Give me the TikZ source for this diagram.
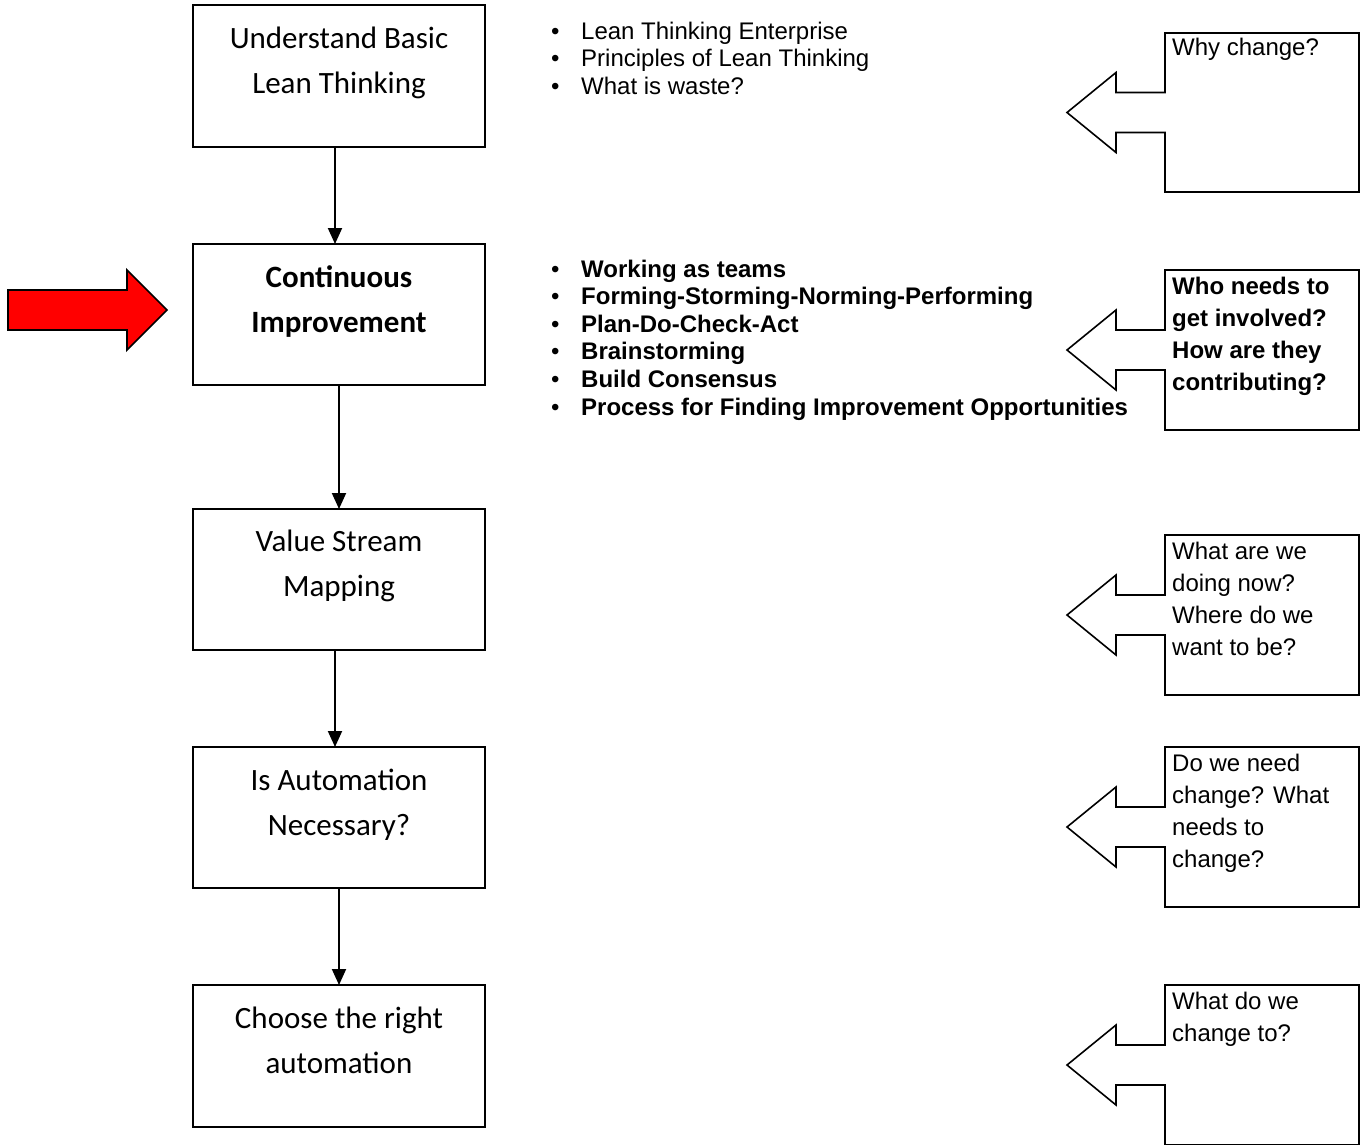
\documentclass[tikz,border=0pt]{standalone}
\usepackage{fontspec}
\setmainfont{Liberation Sans}
\newfontfamily\boxfont{Carlito}
\usetikzlibrary{arrows.meta}

% outline of a question box with its left-pointing block arrow
\newcommand\calloutpath[1]{%
  \draw[calloutline] (#1.north west) -- (#1.north east) -- (#1.south east)
    -- (#1.south west) -- ([yshift=-20pt]#1.west) -- ++(-49,0) -- ++(0,20)
    -- ++(-49,-40) -- ++(49,-40) -- ++(0,20) -- ++(49,0) -- cycle;}

\begin{document}
\begin{tikzpicture}[x=1pt,y=-1pt,
  stepbox/.style={draw, line width=1.7pt, minimum width=292pt, minimum height=142pt, inner sep=0pt, outer sep=0pt},
  boxlabel/.style={font=\boxfont\fontsize{31}{45}\selectfont, align=center, inner sep=0pt, anchor=base},
  flow/.style={line width=1.9pt, -{Triangle[width=14pt,length=16pt]}},
  listtext/.style={font=\fontsize{24}{27.6}\selectfont, align=left, inner sep=0pt, anchor=base west},
  qframe/.style={minimum width=194pt, minimum height=160pt, inner sep=0pt, outer sep=0pt},
  qtext/.style={font=\fontsize{24}{32}\selectfont, align=left, inner sep=0pt, anchor=base west},
  calloutline/.style={line width=1.6pt, line join=miter},
  redarrow/.style={draw=black, fill=red, line width=1.7pt}
]
\useasboundingbox (0,0) rectangle (1360,1144);

% process steps
\node[stepbox] (b1) at (339,76) {};
\node[stepbox, minimum height=141pt] (b2) at (339,314.5) {};
\node[stepbox, minimum height=141pt] (b3) at (339,579.5) {};
\node[stepbox, minimum height=141pt] (b4) at (339,817.5) {};
\node[stepbox] (b5) at (339,1056) {};

% labels are placed by the baseline of their last line
\node[boxlabel] (l1) at (339,93) {Understand Basic\\Lean Thinking};
\node[boxlabel] (l2) at (339,332) {\bfseries Continuous\\\bfseries Improvement};
\node[boxlabel] (l3) at (339,596) {Value Stream\\Mapping};
\node[boxlabel] (l4) at (339,835) {Is Automation\\Necessary?};
\node[boxlabel] (l5) at (339,1073) {Choose the right\\automation};

% connectors between steps
\draw[flow] ([xshift=-4pt]b1.south) -- ([xshift=-4pt]b2.north);
\draw[flow] (b2.south) -- (b3.north);
\draw[flow] ([xshift=-4pt]b3.south) -- ([xshift=-4pt]b4.north);
\draw[flow] (b4.south) -- (b5.north);

% marker for the current step
\draw[redarrow] (8,290) -- (127,290) -- (127,270) -- (167,310) -- (127,350) -- (127,330) -- (8,330) -- cycle;

% topic lists
\node[listtext] (t1) at (551,94.5) {%
  \makebox[30pt][l]{\textbullet}Lean Thinking Enterprise\\
  \makebox[30pt][l]{\textbullet}Principles of Lean Thinking\\
  \makebox[30pt][l]{\textbullet}What is waste?};
\node[listtext, font=\fontsize{24}{27.6}\selectfont\bfseries] (t2) at (551,415) {%
  \makebox[30pt][l]{\mdseries\textbullet}Working as teams\\
  \makebox[30pt][l]{\mdseries\textbullet}Forming-Storming-Norming-Performing\\
  \makebox[30pt][l]{\mdseries\textbullet}Plan-Do-Check-Act\\
  \makebox[30pt][l]{\mdseries\textbullet}Brainstorming\\
  \makebox[30pt][l]{\mdseries\textbullet}Build Consensus\\
  \makebox[30pt][l]{\mdseries\textbullet}Process for Finding Improvement Opportunities};

% guiding questions
\node[qframe, minimum height=159pt] (q1) at (1262,112.5) {};
\node[qframe] (q2) at (1262,350) {};
\node[qframe] (q3) at (1262,615) {};
\node[qframe] (q4) at (1262,827) {};
\node[qframe] (q5) at (1262,1065) {};
\calloutpath{q1}
\calloutpath{q2}
\calloutpath{q3}
\calloutpath{q4}
\calloutpath{q5}

\node[qtext] (w1) at (1172,55) {Why change?};
\node[qtext, font=\fontsize{24}{32}\selectfont\bfseries] (w2) at (1172,390) {Who needs to\\get involved?\\How are they\\contributing?};
\node[qtext] (w3) at (1172,655) {What are we\\doing now?\\Where do we\\want to be?};
\node[qtext] (w4) at (1172,867) {Do we need\\change? What\\needs to\\change?};
\node[qtext] (w5) at (1172,1041) {What do we\\change to?};
\end{tikzpicture}
\end{document}
